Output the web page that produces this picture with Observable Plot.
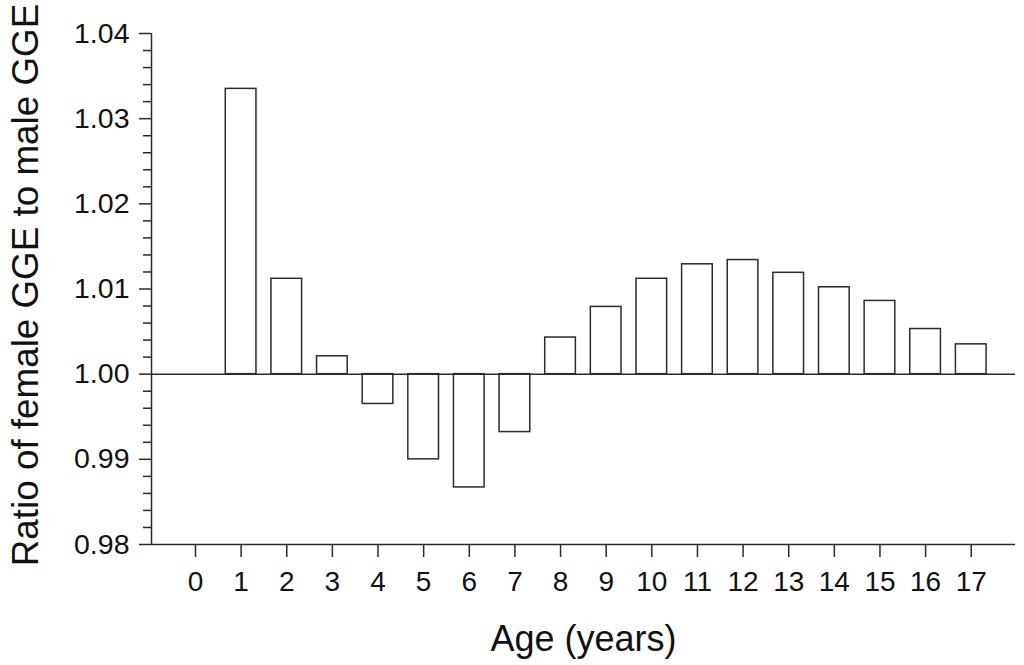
<!DOCTYPE html>
<html>
<head>
<meta charset="utf-8">
<script src="https://cdn.jsdelivr.net/npm/d3@7"></script>
<script src="https://cdn.jsdelivr.net/npm/@observablehq/plot@0.6"></script>
<style>
  html, body { margin: 0; padding: 0; background: #fff; }
  #chart svg { display: block; }
</style>
</head>
<body>
<div id="chart"></div>
<script>
const ages = [1, 2, 3, 4, 5, 6, 7, 8, 9, 10, 11, 12, 13, 14, 15, 16, 17];
const ratios = [1.0335, 1.0112, 1.0021, 0.9965, 0.9900, 0.9867, 0.9932, 1.0043, 1.0079,
                1.0112, 1.0129, 1.0134, 1.0119, 1.0102, 1.0086, 1.0053, 1.0035];
const xTicks = [0, 1, 2, 3, 4, 5, 6, 7, 8, 9, 10, 11, 12, 13, 14, 15, 16, 17];
const yMajor = [0.98, 0.99, 1.00, 1.01, 1.02, 1.03, 1.04];
const yMinor = [0.982, 0.984, 0.986, 0.988, 0.992, 0.994, 0.996, 0.998, 1.002, 1.004, 1.006, 1.008,
                1.012, 1.014, 1.016, 1.018, 1.022, 1.024, 1.026, 1.028, 1.032, 1.034, 1.036, 1.038];
const yLabel = "Ratio of female GGE to male GGE";
const xLabel = "Age (years)";

const data = ages.map((a, i) => ({age: a, ratio: ratios[i]}));
const half = 0.336;
const ink = "#2b2b2b";
const xDomain = [-0.964, 17.97];

const chart = Plot.plot({
  width: 1024,
  height: 665,
  marginLeft: 151,
  marginRight: 9,
  marginTop: 33,
  marginBottom: 121,
  style: {fontFamily: "'Liberation Sans', Arial, sans-serif", background: "#fff", color: "#111"},
  x: {domain: xDomain},
  y: {domain: [0.98, 1.04]},
  marks: [
    Plot.axisY({ticks: yMinor, tickSize: 8, tickFormat: null, text: null, stroke: ink, strokeWidth: 1.5, label: null}),
    Plot.axisY({ticks: yMajor, tickSize: 12, tickPadding: 10, tickFormat: d3.format(".2f"), fontSize: 28.5, stroke: ink, strokeWidth: 1.5, fill: "#111", label: null}),
    Plot.axisX({ticks: xTicks, tickSize: 13, tickPadding: 14, tickFormat: d => String(d), fontSize: 28, stroke: ink, strokeWidth: 1.5, fill: "#111", label: null}),
    Plot.ruleX([xDomain[0]], {y1: 0.98, y2: 1.04, stroke: ink, strokeWidth: 1.5}),
    Plot.ruleY([0.98], {x1: xDomain[0], x2: xDomain[1], stroke: ink, strokeWidth: 1.5}),
    Plot.rect(data, {x1: d => d.age - half, x2: d => d.age + half, y1: 1, y2: "ratio", fill: "white", stroke: ink, strokeWidth: 1.5}),
    Plot.ruleY([1], {x1: xDomain[0], x2: xDomain[1], stroke: ink, strokeWidth: 1.5}),
    Plot.text([yLabel], {frameAnchor: "left", rotate: -90, dx: -125, dy: -4, fontSize: 36.8, textAnchor: "middle", lineAnchor: "middle", fill: "#111"}),
    Plot.text([xLabel], {frameAnchor: "bottom", dy: 95, fontSize: 36, textAnchor: "middle", lineAnchor: "middle", fill: "#111"})
  ]
});
document.getElementById("chart").appendChild(chart);
</script>
</body>
</html>
